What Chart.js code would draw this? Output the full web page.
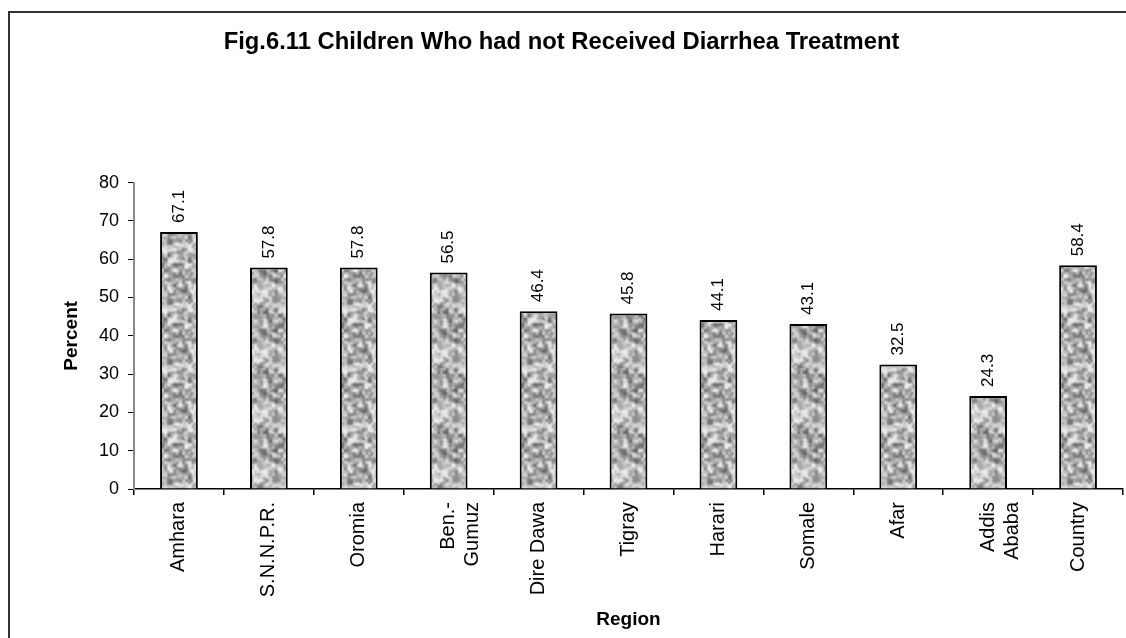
<!DOCTYPE html>
<html>
<head>
<meta charset="utf-8">
<script src="https://cdn.jsdelivr.net/npm/chart.js@4/dist/chart.umd.min.js"></script>
<style>
  html, body { margin: 0; padding: 0; background: #fff; }
  #wrap { width: 1126px; height: 638px; position: relative; }
</style>
</head>
<body>
<div id="wrap"><canvas id="c" width="1126" height="638"></canvas></div>
<script>
const categories = ['Amhara', 'S.N.N.P.R.', 'Oromia', ['Ben.-', 'Gumuz'], 'Dire Dawa', 'Tigray', 'Harari', 'Somale', 'Afar', ['Addis', 'Ababa'], 'Country'];
const percentValues = [67.1, 57.8, 57.8, 56.5, 46.4, 45.8, 44.1, 43.1, 32.5, 24.3, 58.4];
const valueLabels = ['67.1', '57.8', '57.8', '56.5', '46.4', '45.8', '44.1', '43.1', '32.5', '24.3', '58.4'];
const chartTitle = 'Fig.6.11 Children Who had not Received Diarrhea Treatment';
const xTitle = 'Region';
const yTitle = 'Percent';

const FONT = "'Liberation Sans', Arial, sans-serif";

// granite-like texture pattern (deterministic hash noise, style only)
function hash(i, j) {
  let n = Math.imul(i, 374761393) + Math.imul(j, 668265263);
  n = Math.imul(n ^ (n >>> 13), 1274126177);
  n = n ^ (n >>> 16);
  return (n >>> 0) / 4294967295;
}
function valueNoise(x, y, cell, period, seed) {
  const cells = period / cell;
  const gx = x / cell, gy = y / cell;
  const x0 = Math.floor(gx), y0 = Math.floor(gy);
  const fx = gx - x0, fy = gy - y0;
  const sx = fx * fx * (3 - 2 * fx), sy = fy * fy * (3 - 2 * fy);
  const w = (a) => ((a % cells) + cells) % cells;
  const v00 = hash(w(x0) + seed, w(y0) + seed * 7);
  const v10 = hash(w(x0 + 1) + seed, w(y0) + seed * 7);
  const v01 = hash(w(x0) + seed, w(y0 + 1) + seed * 7);
  const v11 = hash(w(x0 + 1) + seed, w(y0 + 1) + seed * 7);
  return (v00 * (1 - sx) + v10 * sx) * (1 - sy) + (v01 * (1 - sx) + v11 * sx) * sy;
}
function makePattern(ctx) {
  const P = 60;
  const off = document.createElement('canvas');
  off.width = P; off.height = P;
  const octx = off.getContext('2d');
  const img = octx.createImageData(P, P);
  for (let y = 0; y < P; y++) {
    for (let x = 0; x < P; x++) {
      const n = 0.6 * valueNoise(x, y, 5, P, 11) + 0.4 * valueNoise(x, y, 3, P, 23);
      let g = 75 + n * 210;
      g = Math.max(105, Math.min(232, g));
      const i = (y * P + x) * 4;
      img.data[i] = g; img.data[i + 1] = g; img.data[i + 2] = g; img.data[i + 3] = 255;
    }
  }
  octx.putImageData(img, 0, 0);
  return ctx.createPattern(off, 'repeat');
}

const canvas = document.getElementById('c');
const ctx = canvas.getContext('2d');
const barPattern = makePattern(ctx);

const frame = {
  id: 'frame',
  beforeDraw(chart) {
    const c = chart.ctx;
    c.save();
    c.fillStyle = '#fff';
    c.fillRect(0, 0, chart.width, chart.height);
    c.strokeStyle = '#333';
    c.lineWidth = 2;
    c.beginPath();
    c.moveTo(9, 638);
    c.lineTo(9, 12);
    c.lineTo(1126, 12);
    c.stroke();
    c.restore();
  }
};

const dataLabels = {
  id: 'dataLabels',
  afterDatasetsDraw(chart) {
    const c = chart.ctx;
    const meta = chart.getDatasetMeta(0);
    c.save();
    c.fillStyle = '#000';
    c.font = '17px ' + FONT;
    c.textAlign = 'left';
    c.textBaseline = 'middle';
    meta.data.forEach((bar, i) => {
      c.save();
      c.translate(bar.x, bar.y - 9);
      c.rotate(-Math.PI / 2);
      c.fillText(valueLabels[i], 0, 0);
      c.restore();
    });
    c.restore();
  }
};

new Chart(canvas, {
  type: 'bar',
  data: {
    labels: categories,
    datasets: [{
      data: percentValues,
      backgroundColor: barPattern,
      borderColor: '#000',
      borderWidth: 2,
      categoryPercentage: 1,
      barPercentage: 0.42
    }]
  },
  options: {
    responsive: false,
    animation: false,
    layout: { padding: { left: 0, right: 3, top: 0, bottom: 0 } },
    plugins: {
      legend: { display: false },
      tooltip: { enabled: false },
      title: {
        display: true,
        text: chartTitle,
        color: '#000',
        font: { family: FONT, size: 23.8, weight: 'bold' },
        padding: { top: 28, bottom: 126 }
      }
    },
    scales: {
      x: {
        afterFit(scale) { scale.height = 149; },
        grid: { display: true, drawOnChartArea: false, drawTicks: true, tickLength: 6, color: '#000', offset: true, lineWidth: 1.5 },
        border: { display: true, color: '#000', width: 1.5 },
        ticks: {
          color: '#000',
          font: { family: FONT, size: 20 },
          minRotation: 90, maxRotation: 90,
          autoSkip: false,
          padding: 7
        },
        title: {
          display: true,
          text: xTitle,
          color: '#000',
          font: { family: FONT, size: 19, weight: 'bold' },
          padding: { top: 0, bottom: 7 }
        }
      },
      y: {
        afterFit(scale) { scale.width = 134; },
        min: 0, max: 80,
        ticks: {
          stepSize: 10,
          color: '#000',
          font: { family: FONT, size: 18 },
          padding: 9
        },
        grid: { display: true, drawOnChartArea: false, drawTicks: true, tickLength: 6, color: '#000' },
        border: { display: true, color: '#888', width: 2 },
        title: {
          display: true,
          text: yTitle,
          color: '#000',
          font: { family: FONT, size: 19, weight: 'bold' },
          padding: { top: 60, bottom: 0 }
        }
      }
    }
  },
  plugins: [frame, dataLabels]
});
</script>
</body>
</html>
